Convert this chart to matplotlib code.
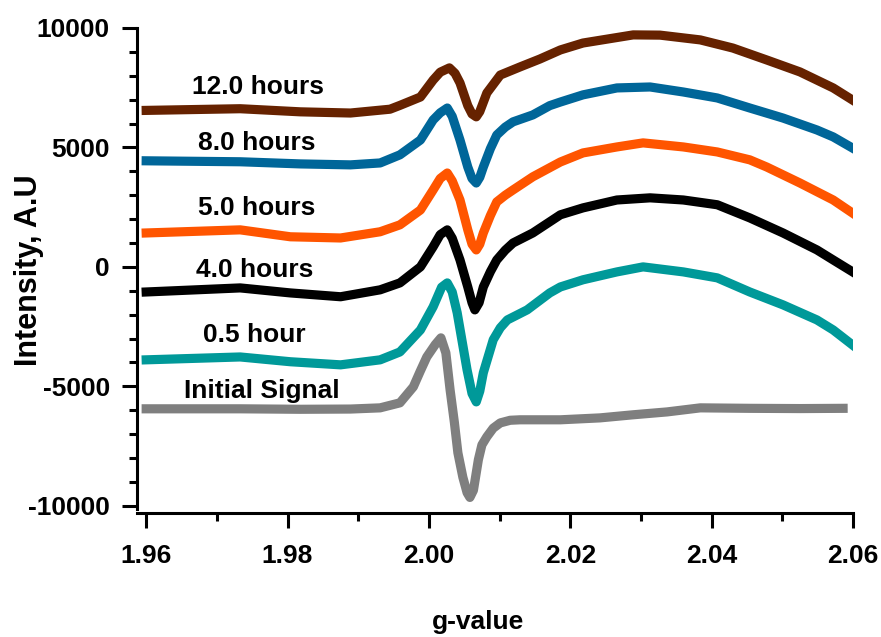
import matplotlib
matplotlib.use("Agg")
import matplotlib.pyplot as plt
from matplotlib.ticker import MultipleLocator, FormatStrFormatter

plt.rcParams['font.family'] = ['Liberation Sans', 'DejaVu Sans']
plt.rcParams['font.weight'] = 'bold'
plt.rcParams['axes.unicode_minus'] = False

# spectra (g-value, intensity)
g_12h = [1.9600, 1.9733, 1.9818, 1.9889, 1.9945, 1.9959, 1.9988, 2.0006, 2.0016, 2.0029,
         2.0037, 2.0044, 2.0055, 2.0061, 2.0067, 2.0072, 2.0082, 2.0101, 2.0129, 2.0157,
         2.0186, 2.0218, 2.0289, 2.0327, 2.0384, 2.0430, 2.0478, 2.0525, 2.0572, 2.0599]
i_12h = [6550, 6620, 6490, 6440, 6600, 6760, 7110, 7820, 8150, 8330,
         8100, 7700, 6750, 6400, 6280, 6500, 7280, 8030, 8370, 8700,
         9080, 9370, 9710, 9700, 9500, 9160, 8660, 8160, 7490, 6990]

g_8h = [1.9600, 1.9733, 1.9818, 1.9889, 1.9931, 1.9959, 1.9988, 2.0006, 2.0016, 2.0026,
        2.0033, 2.0044, 2.0055, 2.0061, 2.0067, 2.0072, 2.0077, 2.0087, 2.0096, 2.0108,
        2.0119, 2.0147, 2.0171, 2.0186, 2.0218, 2.0266, 2.0313, 2.0360, 2.0408, 2.0454,
        2.0501, 2.0549, 2.0572, 2.0599]
i_8h = [4440, 4400, 4310, 4270, 4350, 4690, 5310, 6150, 6450, 6650,
        6300, 5310, 4180, 3700, 3510, 3750, 4180, 4950, 5520, 5850,
        6070, 6360, 6750, 6900, 7200, 7490, 7530, 7320, 7070, 6650,
        6230, 5730, 5440, 4980]

g_5h = [1.9600, 1.9733, 1.9804, 1.9875, 1.9931, 1.9959, 1.9988, 2.0006, 2.0016, 2.0026,
        2.0033, 2.0044, 2.0055, 2.0061, 2.0067, 2.0072, 2.0077, 2.0087, 2.0096, 2.0108,
        2.0119, 2.0147, 2.0186, 2.0218, 2.0266, 2.0303, 2.0360, 2.0408, 2.0454, 2.0478,
        2.0525, 2.0572, 2.0599]
i_5h = [1420, 1550, 1260, 1210, 1470, 1760, 2380, 3220, 3700, 3930,
        3600, 2800, 1550, 950, 710, 950, 1420, 2150, 2720, 3000,
        3220, 3770, 4390, 4770, 5020, 5190, 5020, 4810, 4480, 4180,
        3510, 2800, 2260]

g_4h = [1.9600, 1.9733, 1.9804, 1.9875, 1.9931, 1.9959, 1.9988, 2.0006, 2.0016, 2.0026,
        2.0033, 2.0044, 2.0055, 2.0061, 2.0065, 2.0071, 2.0077, 2.0087, 2.0096, 2.0108,
        2.0119, 2.0147, 2.0186, 2.0218, 2.0266, 2.0313, 2.0360, 2.0408, 2.0454, 2.0501,
        2.0549, 2.0572, 2.0599]
i_4h = [-1050, -880, -1090, -1250, -960, -670, 0, 840, 1350, 1550,
        1200, 290, -840, -1500, -1800, -1500, -840, -200, 290, 700,
        1000, 1420, 2180, 2470, 2800, 2890, 2800, 2600, 2050, 1420,
        710, 290, -200]

g_05h = [1.9600, 1.9733, 1.9804, 1.9875, 1.9931, 1.9959, 1.9988, 2.0006, 2.0018, 2.0026,
         2.0033, 2.0040, 2.0054, 2.0061, 2.0067, 2.0072, 2.0077, 2.0091, 2.0101, 2.0111,
         2.0139, 2.0171, 2.0186, 2.0218, 2.0266, 2.0303, 2.0360, 2.0408, 2.0454, 2.0501,
         2.0549, 2.0572, 2.0599]
i_05h = [-3890, -3770, -3970, -4100, -3890, -3560, -2640, -1670, -850, -670,
         -1050, -1920, -4310, -5300, -5650, -5200, -4430, -3050, -2550, -2220,
         -1800, -1090, -840, -540, -210, 0, -210, -460, -1050, -1590,
         -2220, -2640, -3260]

g_init = [1.9600, 1.9733, 1.9818, 1.9889, 1.9931, 1.9959, 1.9978, 1.9988, 1.9997, 2.0009,
          2.0017, 2.0024, 2.0030, 2.0036, 2.0041, 2.0048, 2.0054, 2.0058, 2.0063, 2.0070,
          2.0075, 2.0082, 2.0091, 2.0101, 2.0115, 2.0129, 2.0186, 2.0242, 2.0289, 2.0337,
          2.0384, 2.0454, 2.0525, 2.0586]
i_init = [-5940, -5940, -5960, -5950, -5900, -5690, -5020, -4350, -3770, -3250,
          -2970, -3600, -5150, -6500, -7780, -8800, -9450, -9650, -9350, -8070,
          -7450, -7110, -6750, -6530, -6420, -6400, -6400, -6320, -6190, -6070,
          -5900, -5920, -5930, -5920]

series = [
    (g_12h, i_12h, '#662200', '12.0 hours', 1.9758, 7240),
    (g_8h, i_8h, '#006699', '8.0 hours', 1.9757, 4896),
    (g_5h, i_5h, '#ff5500', '5.0 hours', 1.9757, 2176),
    (g_4h, i_4h, '#000000', '4.0 hours', 1.9754, -418),
    (g_05h, i_05h, '#009999', '0.5 hour', 1.9753, -3138),
    (g_init, i_init, '#7f7f7f', 'Initial Signal', 1.9764, -5481),
]

fig = plt.figure(figsize=(8.81, 6.37), dpi=100)
ax = fig.add_axes([0.1555, 0.1947, 0.8127, 0.7614])

for g, inten, col, lab, tx, ty in series:
    ax.plot(g, inten, color=col, lw=6.6, solid_joinstyle='round')
    ax.text(tx, ty, lab, ha='center', va='baseline', fontsize=19, fontweight='bold')

ax.set_xlim(1.9587, 2.06)
ax.set_ylim(-10300, 10000)

ax.spines['top'].set_visible(False)
ax.spines['right'].set_visible(False)
ax.spines['left'].set_linewidth(2.2)
ax.spines['bottom'].set_linewidth(2.2)
ax.spines['left'].set_bounds(-10150, 10000)

ax.xaxis.set_major_locator(MultipleLocator(0.02))
ax.xaxis.set_minor_locator(MultipleLocator(0.01))
ax.xaxis.set_major_formatter(FormatStrFormatter('%.2f'))
ax.yaxis.set_major_locator(MultipleLocator(5000))
ax.yaxis.set_minor_locator(MultipleLocator(1000))
ax.set_xticks([1.96, 1.98, 2.00, 2.02, 2.04, 2.06])
ax.set_yticks([-10000, -5000, 0, 5000, 10000])

ax.tick_params(axis='both', which='major', direction='out', length=10.5, width=2.2, labelsize=19)
ax.tick_params(axis='both', which='minor', direction='out', length=5.5, width=2.2)
ax.tick_params(axis='y', which='major', pad=9)
ax.tick_params(axis='x', which='major', pad=12)

ax.set_xlabel('g-value', fontsize=19, fontweight='bold')
ax.set_ylabel('Intensity, A.U', fontsize=22, fontweight='bold')
ax.xaxis.set_label_coords(0.476, -0.2)
ax.yaxis.set_label_coords(-0.13, 0.5)

fig.savefig('out.png', dpi=100)
